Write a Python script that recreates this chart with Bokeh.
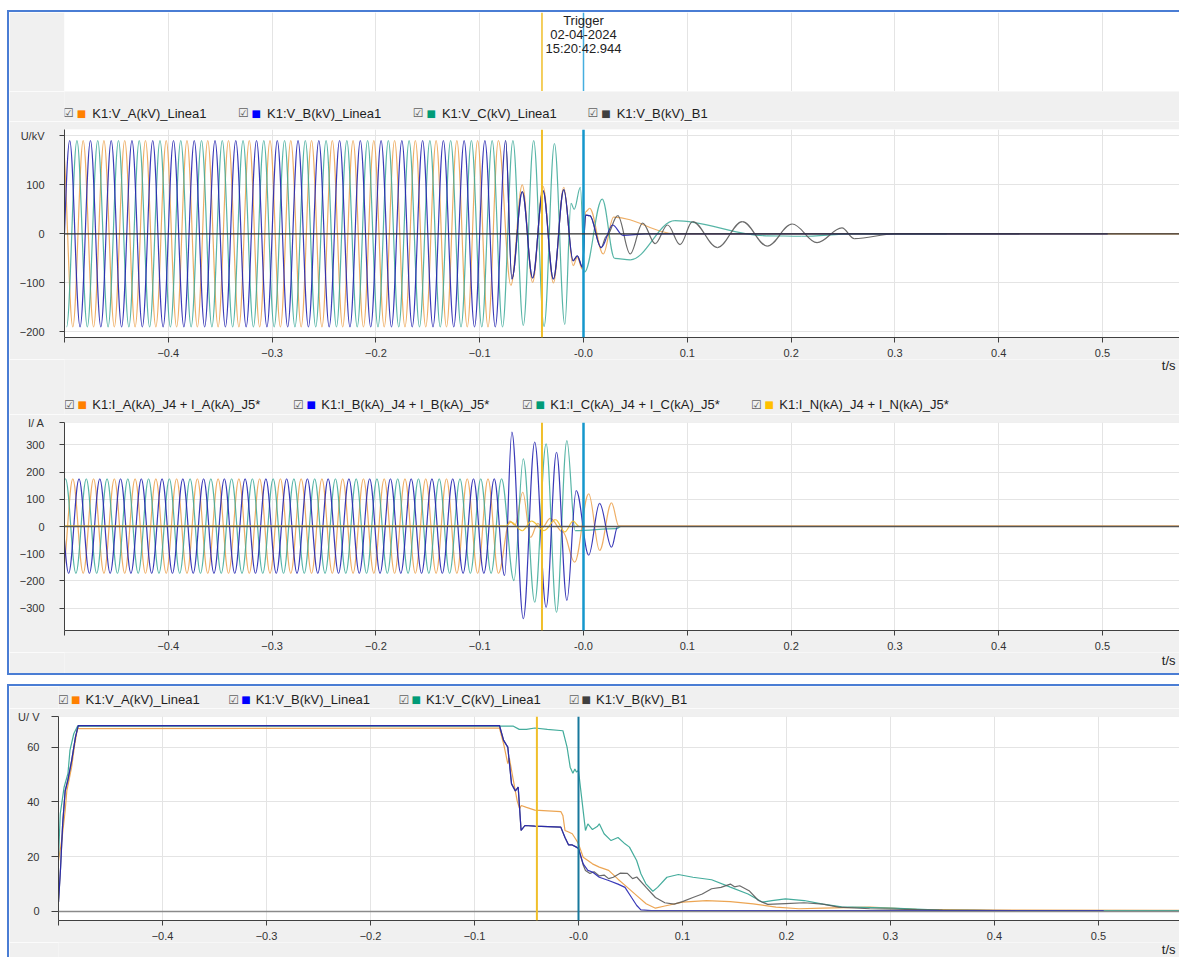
import numpy as np
from bokeh.plotting import figure
from bokeh.models import Range1d, FixedTicker, Span, Label, Grid, Div, ColumnDataSource
from bokeh.layouts import column, row
from bokeh.embed import file_html
from bokeh.resources import INLINE

# ---------------- data (times in ms) ----------------
HEADER_LINES = ["Trigger", "02-04-2024", "15:20:42.944"]
MARKERS_S = [-0.04, 0.0]
XTICKS = [-0.5, -0.4, -0.3, -0.2, -0.1, 0.0, 0.1, 0.2, 0.3, 0.4, 0.5]

V_NAMES = ["K1:V_A(kV)_Linea1", "K1:V_B(kV)_Linea1", "K1:V_C(kV)_Linea1", "K1:V_B(kV)_B1"]
I_NAMES = ["K1:I_A(kA)_J4 + I_A(kA)_J5*", "K1:I_B(kA)_J4 + I_B(kA)_J5*",
           "K1:I_C(kA)_J4 + I_C(kA)_J5*", "K1:I_N(kA)_J4 + I_N(kA)_J5*"]

# Panel 1: instantaneous voltages (kV), extrema of each half wave
VA_T = [-502, -492, -482, -472, -462, -452, -442, -432, -422, -412,
        -402, -392, -382, -372, -362, -352, -342, -332, -322, -312,
        -302, -292, -282, -272, -262, -252, -242, -232, -222, -212,
        -202, -192, -182, -172, -162, -152, -142, -132, -122, -112,
        -102, -92, -82,
        -70, -59, -49, -39, -29, -19, -10, -6, -1, 2, 6, 19, 29, 90, 575]
VA_V = [190, -190, 190, -190, 190, -190, 190, -190, 190, -190,
        190, -190, 190, -190, 190, -190, 190, -190, 190, -190,
        190, -190, 190, -190, 190, -190, 190, -190, 190, -190,
        190, -190, 190, -190, 190, -190, 190, -190, 190, -190,
        190, -190, 190,
        -105, 100, -99, 97, -100, 95, -65, -48, -72, 45, 52, -41, 34, 0, 0]

VB_T = [-505, -495, -485, -475, -465, -455, -445, -435, -425, -415,
        -405, -395, -385, -375, -365, -355, -345, -335, -325, -315,
        -305, -295, -285, -275, -265, -255, -245, -235, -225, -215,
        -205, -195, -185, -175, -165, -155, -145, -135, -125, -115,
        -105, -95, -85, -75,
        -69, -59, -49, -39, -29, -19, -10, -6, -1, 2, 6, 17, 28, 38, 60, 505]
VB_V = [-190, 190, -190, 190, -190, 190, -190, 190, -190, 190,
        -190, 190, -190, 190, -190, 190, -190, 190, -190, 190,
        -190, 190, -190, 190, -190, 190, -190, 190, -190, 190,
        -190, 190, -190, 190, -190, 190, -190, 190, -190, 190,
        -190, 190, -190, 190,
        -92, 86, -90, 88, -92, 90, -55, -45, -68, 38, 37, -28, 18, -3, 0, 0]

VC_T = [-498, -488, -478, -468, -458, -448, -438, -428, -418, -408,
        -398, -388, -378, -368, -358, -348, -338, -328, -318, -308,
        -298, -288, -278, -268, -258, -248, -238, -228, -218, -208,
        -198, -188, -178, -168, -158, -148, -138, -128, -118, -108,
        -98, -88, -78, -68, -58, -48, -38, -28, -18,
        -12, -9, -3, 1, 18, 30, 45, 88, 176, 210, 260, 350]
VC_V = [-190, 190, -190, 190, -190, 190, -190, 190, -190, 190,
        -190, 190, -190, 190, -190, 190, -190, 190, -190, 190,
        -190, 190, -190, 190, -190, 190, -190, 190, -190, 190,
        -190, 190, -190, 190, -190, 190, -190, 190, -190, 190,
        -190, 190, -190, 190, -187, 190, -189, 184, -185,
        62, 50, 95, -78, 71, -50, -53, 27, -4, -5, 0, 0]

VB1_T = [-75, -69, -59, -49, -39, -29, -19, -10, -6, -1, 2, 6, 17, 22,
         33, 45, 57, 69, 81, 93, 105, 129, 153, 177, 201, 225, 249, 261, 300, 420]
VB1_V = [190, -92, 86, -90, 88, -92, 90, -55, -45, -68, 38, 37, -28, -5,
         37, -41, 22, -20, 18, -22, 25, -28, 25, -25, 20, -18, 12, -10, 0, 0]

# Panel 2: currents (A), extrema of each half wave
IA_T = [-502, -492, -482, -472, -462, -452, -442, -432, -422, -412,
        -402, -392, -382, -372, -362, -352, -342, -332, -322, -312,
        -302, -292, -282, -272, -262, -252, -242, -232, -222, -212,
        -202, -192, -182, -172, -162, -152, -142, -132, -122, -112,
        -102, -92, -82,
        -71, -66, -58.5, -51, -44, -40, -32, -20, -8.5, 5, 15.5, 27, 34, 575]
IA_V = [-172, 175, -172, 175, -172, 175, -172, 175, -172, 175,
        -172, 175, -172, 175, -172, 175, -172, 175, -172, 175,
        -172, 175, -172, 175, -172, 175, -172, 175, -172, 175,
        -172, 175, -172, 175, -172, 175, -172, 175, -172, 175,
        -172, 175, -172,
        20, 5, 126, -40, 12, -5, 30, -20, -131, 120, -88, 87, 2, 2]

IB_T = [-506, -496, -486, -476, -466, -456, -446, -436, -426, -416,
        -406, -396, -386, -376, -366, -356, -346, -336, -326, -316,
        -306, -296, -286, -276, -266, -256, -246, -236, -226, -216,
        -206, -196, -186, -176, -166, -156, -146, -136, -126, -116,
        -106, -96, -86,
        -76, -69, -58, -47, -36, -26, -16, -7, 5, 15.5, 27, 33, 575]
IB_V = [175, -172, 175, -172, 175, -172, 175, -172, 175, -172,
        175, -172, 175, -172, 175, -172, 175, -172, 175, -172,
        175, -172, 175, -172, 175, -172, 175, -172, 175, -172,
        175, -172, 175, -172, 175, -172, 175, -172, 175, -172,
        175, -172, 175,
        -180, 347, -339, 310, -297, 273, -272, 132, -105, 85, -76, 0, 0]

IC_T = [-509, -499, -489, -479, -469, -459, -449, -439, -429, -419,
        -409, -399, -389, -379, -369, -359, -349, -339, -329, -319,
        -309, -299, -289, -279, -269, -259, -249, -239, -229, -219,
        -209, -199, -189, -179, -169, -159, -149, -139, -129, -119,
        -109, -99, -89, -79,
        -67, -58, -47, -36, -26, -16, -8, 32, 36, 575]
IC_V = [-172, 175, -172, 175, -172, 175, -172, 175, -172, 175,
        -172, 175, -172, 175, -172, 175, -172, 175, -172, 175,
        -172, 175, -172, 175, -172, 175, -172, 175, -172, 175,
        -172, 175, -172, 175, -172, 175, -172, 175, -172, 175,
        -172, 175, -172, 175,
        -199, 249, -278, 304, -315, 316, -15, -8, 0, 0]

IN_T = [-500, -75, -70, -59, -50, -38, -27, -18, -10, -4, 575]
IN_V = [2, 2, 16, -15, 20, -15, 25, -20, 20, 0, 0]

# Panel 3: RMS voltages (V)
RA_T = [-500, -496.5, -493.6, -492, -490, -487.4, -484.8, -481.8, -76, -72, -68, -66.5,
        -62.6, -59, -56.6, -55, -50, -42, -17, -15, -13, -9.5, -6, -2, 0, 4.5, 9, 13.4,
        20, 29, 38, 47, 56, 65, 74, 83, 100, 123, 146, 168, 190, 212, 235, 280, 325, 400, 578]
RA_V = [18.6, 27, 36.9, 44, 47.8, 52.7, 60, 66.8, 67, 61.2, 54, 56,
        47.8, 40.5, 37.5, 38.7, 38, 37, 36.5, 35, 29.6, 29, 28.4, 26, 24.7, 19.8, 18.6, 17.4,
        16.2, 15, 11.8, 8.8, 5.8, 2.8, 1.2, 2, 3.4, 4, 3.6, 2.8, 1.6, 1.0, 1.2, 1.6, 0.8, 0.5, 0.4]

RB_T = [-500, -498, -496, -493.6, -491, -487.4, -483.7, -481, -76, -72, -68, -64.4,
        -60.7, -58, -55.2, -51.5, -42, -17, -13, -9.5, -6, -2, 0, 4.5, 9, 13.4, 20, 29,
        38, 44.7, 51, 56, 60, 70, 505]
RB_V = [3.4, 16, 32, 44, 48, 55, 63.7, 67.9, 67.9, 62.5, 60, 46.6,
        44, 45.4, 29.6, 31.4, 31.2, 30.8, 27, 24.3, 24.3, 23.5, 23, 17.4, 15, 14.4, 12.5, 11.3,
        10, 8.8, 5.1, 2.2, 0.6, 0.3, 0.3]

RC_T = [-500, -498.3, -494.6, -490.9, -489, -485.3, -481.6, -63, -57, -50, -42, -30, -15,
        -11, -8, -5.4, -3.5, -2, 0, 2.2, 6.7, 9, 13.4, 18, 20, 24.6, 31.3, 38, 44.7, 49,
        55.9, 60, 64.8, 71.5, 76, 85, 96, 110, 128, 146, 163, 177, 186, 199, 217, 235, 253,
        302, 347, 400, 578]
RC_V = [19.8, 35.7, 45.4, 50.4, 58.8, 64.9, 67.7, 67.7, 66.5, 66.5, 67, 66.5, 66,
        60, 52.7, 50.5, 52, 50.9, 51.5, 44.2, 29.6, 32, 29.9, 31, 32, 28.4, 25.9, 27, 24.7, 23.5,
        18.6, 13.8, 10.1, 7.4, 8.8, 12.5, 13.5, 12.5, 11.6, 8.9, 6.4, 3.4, 4, 4.6, 4, 2.7, 1.7,
        1.2, 0.5, 0.3, 0.3]

RB1_T = [-500, -498, -496, -493.6, -491, -487.4, -483.7, -481, -76, -72, -68, -64.4,
         -60.7, -58, -55.2, -51.5, -42, -17, -13, -9.5, -6, -2, 0, 4.5, 6.7, 11, 15, 20,
         24.6, 29, 33.5, 40, 47, 52, 56, 65, 74, 83, 92, 100, 110, 119, 128, 137, 146, 150,
         155, 164, 173, 182, 199, 217, 235, 250, 280, 350, 420]
RB1_V = [3.4, 16, 32, 44, 48, 55, 63.7, 67.9, 67.9, 62.5, 60, 46.6,
         44, 45.4, 29.6, 31.4, 31.2, 30.8, 27, 24.3, 24.3, 23.5, 23, 17, 15, 13.9, 14.5, 13,
         13.3, 12, 12.5, 14, 13.9, 12, 12.6, 8.8, 5.1, 3.2, 2.7, 3.6, 5.1, 6.4, 8.3, 8.8, 10, 9,
         9.4, 7.6, 4, 2.6, 2.9, 3.2, 2.7, 1.6, 1, 0.5, 0.3]

# ---------------- styling ----------------
BG = "#f0f0f0"
FRAME_BLUE = "#4a7dd4"
GRID = "#e4e4e4"
FONT = "Liberation Sans"
C_A, C_B, C_C, C_B1, C_N = "#eba04a", "#2424b0", "#3aa897", "#5a5a5a", "#f2c230"
SQ_A, SQ_B, SQ_C, SQ_B1, SQ_N = "#ff8000", "#0000ff", "#009b77", "#404040", "#ffc000"
K = 1 - 2 / np.pi
FIG_W = 1170
PAGE_R = 1179  # page x of the right edge


def wave(p, T, V, color, alpha=1.0, width=1.2):
    t = np.asarray(T, float) / 1000.0
    v = np.asarray(V, float)
    d = np.diff(t)
    src = ColumnDataSource(dict(x0=t[:-1], y0=v[:-1], x1=t[1:], y1=v[1:],
                                cx0=t[:-1] + K * d, cy0=v[:-1], cx1=t[1:] - K * d, cy1=v[1:]))
    p.bezier(x0="x0", y0="y0", x1="x1", y1="y1", cx0="cx0", cy0="cy0", cx1="cx1", cy1="cy1",
             source=src, line_color=color, line_alpha=alpha, line_width=width)


def rms(p, T, V, color, alpha=1.0, width=1.2):
    p.line(x=np.asarray(T, float) / 1000.0, y=V, line_color=color, line_alpha=alpha, line_width=width)


def panel(h, x_end, y0, y1, left, yticks, yover, tick_out=5, standoff=15):
    p = figure(width=FIG_W, height=h, x_range=Range1d(-0.5, x_end), y_range=Range1d(y0, y1),
               output_backend="svg", toolbar_location=None, tools="",
               min_border_left=left, min_border_right=0, min_border_top=8, min_border_bottom=22,
               background_fill_color="white", border_fill_color=BG, outline_line_color=None)
    p.xaxis.ticker = FixedTicker(ticks=XTICKS)
    p.xaxis.major_label_overrides = {-0.5: "", 0: "-0.0"}
    p.yaxis.ticker = FixedTicker(ticks=yticks)
    p.yaxis.major_label_overrides = yover
    for ax in p.axis:
        ax.axis_line_color = "#404040"
        ax.major_tick_line_color = "#404040"
        ax.major_tick_in = 0
        ax.minor_tick_line_color = None
        ax.major_label_text_font = FONT
        ax.major_label_text_font_size = "11px"
        ax.major_label_text_color = "#333333"
    p.xaxis.major_tick_out = 5
    p.xaxis.major_label_standoff = 6
    p.yaxis.major_tick_out = tick_out
    p.yaxis.major_label_standoff = standoff
    p.grid.grid_line_color = GRID
    return p


def strip(h, left):
    # frames in a column are aligned, so the strip's frame starts where the panels' frames start;
    # its x range is expressed directly in page pixels
    s = figure(width=FIG_W, height=h, x_range=Range1d(9 + left, PAGE_R), y_range=Range1d(0, h),
               output_backend="svg", toolbar_location=None, tools="",
               x_axis_location=None, y_axis_location=None,
               min_border_left=left, min_border_right=0, min_border_top=0, min_border_bottom=0,
               background_fill_color=BG, border_fill_color=BG, outline_line_color=None)
    s.grid.visible = False
    return s


def txt(s, x_page, y, text, align="left", size="13px", color="#1e1e1e", font=FONT):
    s.add_layout(Label(x=x_page, y=y, text=text, text_align=align, text_baseline="middle",
                       text_font=font, text_font_size=size, text_color=color))


def legend(s, names, colors, y, period, cb_x, sq_x, tx_x):
    for i, (n, c) in enumerate(zip(names, colors)):
        b = i * period
        txt(s, cb_x + b, y, "\u2611", "center", "12px", "#606060", "DejaVu Sans")
        txt(s, sq_x + b, y, "\u25a0", "center", "10px", c, "DejaVu Sans")
        txt(s, tx_x + b, y, n)


def markers(p, blue="#1597cc", bw=2.5):
    p.add_layout(Span(location=MARKERS_S[0], dimension="height", line_color="#f0bf2a", line_width=2))
    p.add_layout(Span(location=MARKERS_S[1], dimension="height", line_color=blue, line_width=bw))


# ---------------- header ----------------
X_END_12 = -0.5 + 1115 / 1038.0
hdr = figure(width=FIG_W, height=79, x_range=Range1d(-0.5, X_END_12), y_range=Range1d(0, 1),
             output_backend="svg", toolbar_location=None, tools="",
             x_axis_location=None, y_axis_location=None,
             min_border_left=55, min_border_right=0, min_border_top=0, min_border_bottom=0,
             background_fill_color="white", border_fill_color=BG, outline_line_color=None)
hdr.grid.visible = False
hdr.add_layout(Grid(dimension=0, ticker=FixedTicker(ticks=XTICKS[1:]), grid_line_color=GRID))
hdr.add_layout(Span(location=MARKERS_S[0], dimension="height", line_color="#f0bf2a", line_width=1.5))
hdr.add_layout(Span(location=MARKERS_S[1], dimension="height", line_color="#45aee0", line_width=1.5))
for i, t in enumerate(HEADER_LINES):
    hdr.add_layout(Label(x=0.0, y=1, y_offset=-8 - 14 * i, text=t, text_align="center",
                         text_baseline="middle", text_font=FONT, text_font_size="13px",
                         text_color="#222222"))

# ---------------- panel 1: voltages ----------------
L1 = strip(30, 55)
legend(L1, V_NAMES, [SQ_A, SQ_B, SQ_C, SQ_B1], 8.3, 174.8, 68, 81, 91.8)

Y1 = (-211.6, 212.9)
p1 = panel(238, X_END_12, Y1[0], Y1[1], 55, [-200, -100, 0, 100, 200], {200: "U/kV"})
markers(p1)
wave(p1, VA_T, VA_V, C_A, 0.85)
wave(p1, VC_T, VC_V, C_C, 0.85)
wave(p1, VB1_T, VB1_V, C_B1, 0.9)
wave(p1, VB_T, VB_V, C_B, 0.9)
p1.add_layout(Span(location=0, dimension="width", line_color="#303030", line_width=1.2))

T1 = strip(55, 55)
txt(T1, 1175, 49, "t/s", "right", "13px", "#222222")
legend(T1, I_NAMES, [SQ_A, SQ_B, SQ_C, SQ_N], 9.7, 229, 69, 81.7, 91.8)

# ---------------- panel 2: currents ----------------
Y2 = (-382.4, 382.4)
p2 = panel(238, X_END_12, Y2[0], Y2[1], 55, [-300, -200, -100, 0, 100, 200, 300, 382.3], {382.3: "I/ A"})
markers(p2)
wave(p2, IA_T, IA_V, C_A, 0.85)
wave(p2, IC_T, IC_V, C_C, 0.85)
wave(p2, IB_T, IB_V, C_B, 0.9)
wave(p2, IN_T, IN_V, C_N, 0.95)
p2.add_layout(Span(location=0, dimension="width", line_color="#555555", line_width=1.5))

T2 = strip(21, 55)
txt(T2, 1175, 13, "t/s", "right", "13px", "#222222")

# ---------------- panel 3: RMS voltages ----------------
L3 = strip(22, 49)
legend(L3, V_NAMES, [SQ_A, SQ_B, SQ_C, SQ_B1], 8.7, 170.2, 63, 75.2, 85)

X_END_3 = -0.5 + 1121 / 1040.0
Y3 = (-3.29, 71.2)
p3 = panel(234, X_END_3, Y3[0], Y3[1], 49, [0, 20, 40, 60, 71.1], {71.1: "U/ V"}, tick_out=7, standoff=12)
p3.add_layout(Span(location=0, dimension="width", line_color="#8a8a8a", line_width=1.6))
markers(p3, blue="#17789c", bw=2)
rms(p3, RA_T, RA_V, C_A, 0.95)
rms(p3, RC_T, RC_V, C_C, 0.95)
rms(p3, RB1_T, RB1_V, C_B1, 0.9)
rms(p3, RB_T, RB_V, C_B, 0.9)

T3 = strip(15, 49)
txt(T3, 1175, 8, "t/s", "right", "13px", "#222222")


# ---------------- layout with blue frames ----------------
def bar(w, h, color=FRAME_BLUE):
    return Div(text="", width=w, height=h, margin=0, styles={"background-color": color})


frame1 = column(bar(1172, 2), row(bar(2, 661), column(hdr, L1, p1, T1, p2, T2)), bar(1172, 2))
frame2 = column(bar(1172, 2), row(bar(2, 271), column(L3, p3, T3)))
page = row(bar(7, 957, "white"), column(bar(1172, 10, "white"), frame1, bar(1172, 9, "white"), frame2))

open("out.html", "w").write(file_html(page, INLINE))
